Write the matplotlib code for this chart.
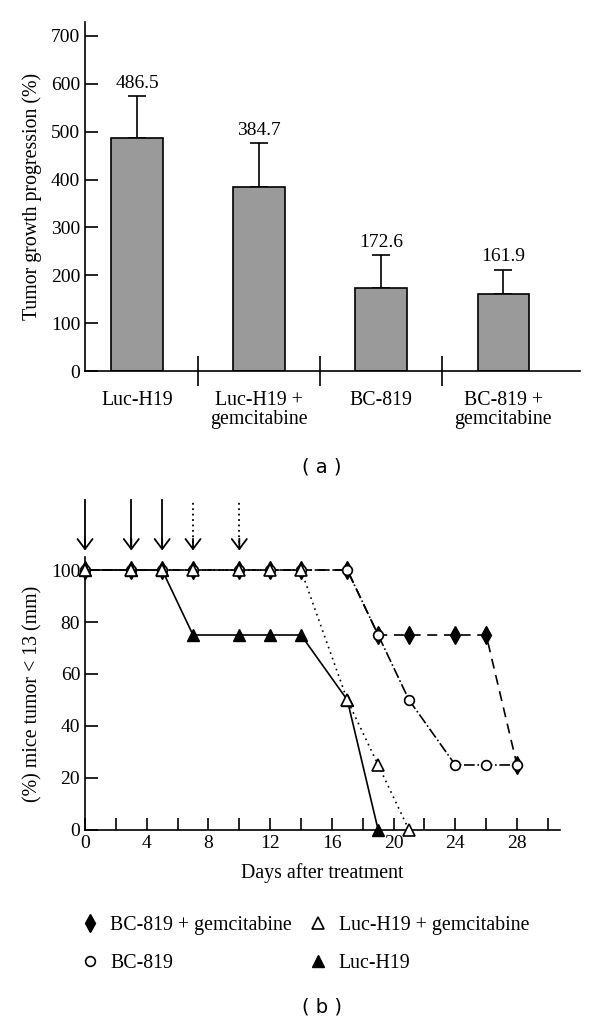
import matplotlib
matplotlib.use("Agg")
import matplotlib.pyplot as plt
from matplotlib.lines import Line2D

plt.rcParams['font.family'] = ['Liberation Serif', 'DejaVu Serif']
plt.rcParams['font.size'] = 14

# (a) bar data
groups = ["Luc-H19", "Luc-H19 +\ngemcitabine", "BC-819", "BC-819 +\ngemcitabine"]
growth = [486.5, 384.7, 172.6, 161.9]
growth_err = [88, 91, 70, 50]

# (b) survival-like data
days_bcg = [0, 3, 5, 7, 10, 12, 14, 17, 19, 21, 24, 26, 28]
pct_bcg = [100, 100, 100, 100, 100, 100, 100, 100, 75, 75, 75, 75, 25]
days_bc = [0, 3, 5, 7, 10, 12, 14, 17, 19, 21, 24, 26, 28]
pct_bc = [100, 100, 100, 100, 100, 100, 100, 100, 75, 50, 25, 25, 25]
days_lucg = [0, 3, 5, 7, 10, 12, 14, 17, 19, 21]
pct_lucg = [100, 100, 100, 100, 100, 100, 100, 50, 25, 0]
days_luc = [0, 3, 5, 7, 10, 12, 14, 17, 19]
pct_luc = [100, 100, 100, 75, 75, 75, 75, 50, 0]
solid_arrow_days = [0, 3, 5]
dotted_arrow_days = [7, 10]

fig = plt.figure(figsize=(6.0, 10.23), dpi=100)

# ---------- (a) ----------
ax1 = fig.add_axes([0.1417, 0.6373, 0.825, 0.3412])
x = list(range(len(groups)))
ax1.bar(x, growth, width=0.42, color='#9a9a9a', edgecolor='black', linewidth=1.2, zorder=2)
ax1.errorbar(x, growth, yerr=[[0] * len(growth), growth_err], fmt='none',
             ecolor='black', elinewidth=1.2, capsize=6.5, capthick=1.2, zorder=1)
for xi, v, e in zip(x, growth, growth_err):
    ax1.annotate(f"{v:.1f}", (xi, v + e), xytext=(0, 3), textcoords='offset points',
                 ha='center', va='bottom', fontsize=14)
ax1.set_xlim(-0.426, 3.63)
ax1.set_ylim(0, 729)
ax1.set_yticks(range(0, 701, 100))
ax1.tick_params(axis='y', direction='in', length=9, width=1.2, labelsize=14)
ax1.set_xticks([0.5, 1.5, 2.5])
ax1.set_xticklabels([])
ax1.tick_params(axis='x', which='major', direction='inout', length=22, width=1.2)
ax1.set_xticks(x, minor=True)
ax1.set_xticklabels(groups, minor=True, fontsize=14.3, linespacing=1.0)
ax1.tick_params(axis='x', which='minor', length=0, pad=14.5)
ax1.spines['top'].set_visible(False)
ax1.spines['right'].set_visible(False)
ax1.spines['left'].set_linewidth(1.2)
ax1.spines['bottom'].set_linewidth(1.2)
ax1.set_ylabel("Tumor growth progression (%)", fontsize=14.3, labelpad=6)
fig.text(0.537, 1 - 467 / 1023, "( a )", ha='center', va='center',
         fontsize=14, family='DejaVu Sans')

# ---------- (b) ----------
ax2 = fig.add_axes([0.1417, 0.1887, 0.792, 0.2668])
ax2.plot(days_bcg, pct_bcg, linestyle=(0, (6, 4)), color='black', lw=1.2,
         marker='d', ms=9, mfc='black', mec='black', zorder=2, clip_on=False)
ax2.plot(days_bc, pct_bc, linestyle='-.', color='black', lw=1.2,
         marker='o', ms=7, mfc='white', mec='black', mew=1.2, zorder=3, clip_on=False)
ax2.plot(days_lucg, pct_lucg, linestyle=(0, (1, 2.5)), color='black', lw=1.2,
         marker='^', ms=8, mfc='white', mec='black', mew=1.2, zorder=4, clip_on=False)
ax2.plot(days_luc, pct_luc, linestyle='-', color='black', lw=1.2,
         marker='^', ms=8, mfc='black', mec='black', zorder=3, clip_on=False)

# treatment arrows: shaft (solid or dotted) plus a solid open head
head_style = '->,head_length=0.6,head_width=0.45'
for days, style, top in [(solid_arrow_days, '-', 127), (dotted_arrow_days, (0, (1, 2)), 126)]:
    for d in days:
        ax2.plot([d, d], [108.5, top], color='black', lw=1.3, linestyle=style, clip_on=False)
        ax2.annotate("", xy=(d, 107.5), xytext=(d, 112), annotation_clip=False,
                     arrowprops=dict(arrowstyle=head_style, color='black', lw=1.3,
                                     shrinkA=0, shrinkB=0, mutation_scale=12))

ax2.set_xlim(0, 30.8)
ax2.set_ylim(0, 105)
ax2.set_xticks(range(0, 29, 4))
ax2.set_xticks(range(2, 31, 2), minor=True)
ax2.set_yticks(range(0, 101, 20))
ax2.tick_params(axis='both', which='both', direction='in', length=9, width=1.2, labelsize=14)
ax2.spines['top'].set_visible(False)
ax2.spines['right'].set_visible(False)
ax2.spines['left'].set_linewidth(1.2)
ax2.spines['bottom'].set_linewidth(1.2)
ax2.set_xlabel("Days after treatment", fontsize=14.3, labelpad=8)
ax2.set_ylabel("(%) mice tumor < 13 (mm)", fontsize=14.3, labelpad=6)

handles = [
    Line2D([], [], ls='none', marker='d', ms=9, mfc='black', mec='black'),
    Line2D([], [], ls='none', marker='o', ms=7, mfc='white', mec='black', mew=1.2),
    Line2D([], [], ls='none', marker='^', ms=8, mfc='white', mec='black', mew=1.2),
    Line2D([], [], ls='none', marker='^', ms=8, mfc='black', mec='black'),
]
labels = ["BC-819 + gemcitabine", "BC-819", "Luc-H19 + gemcitabine", "Luc-H19"]
fig.legend(handles, labels, loc='upper left', bbox_to_anchor=(0.103, 1 - 898 / 1023),
           ncol=2, frameon=False, fontsize=14.3, handlelength=1.0,
           handletextpad=0.55, columnspacing=0.8, labelspacing=0.95)
fig.text(0.537, 1 - 1007 / 1023, "( b )", ha='center', va='center',
         fontsize=14, family='DejaVu Sans')

fig.savefig("out.png", dpi=100)
